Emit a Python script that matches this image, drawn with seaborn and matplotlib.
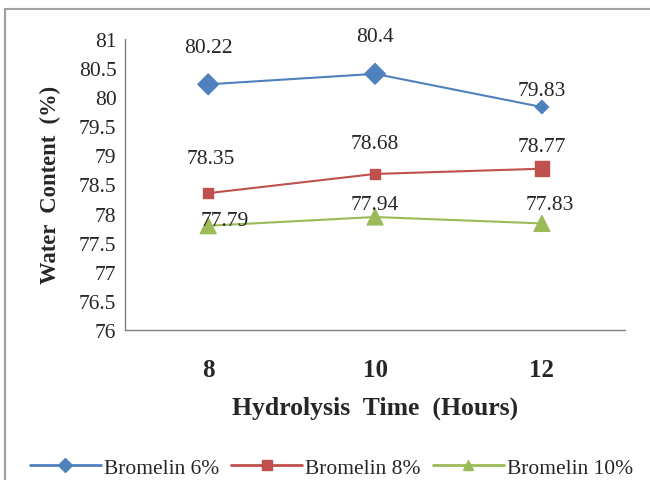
import numpy as np
import pandas as pd
import matplotlib
matplotlib.use("Agg")
import matplotlib.pyplot as plt
import seaborn as sns
from matplotlib.patches import Rectangle

# data
hours = ["8", "10", "12"]
bromelin_6 = [80.22, 80.4, 79.83]
bromelin_8 = [78.35, 78.68, 78.77]
bromelin_10 = [77.79, 77.94, 77.83]
series_names = ["Bromelin 6%", "Bromelin 8%", "Bromelin 10%"]

# styling
colors = ["#4F81BD", "#C0504D", "#9BBB59"]
markers = ["D", "s", "^"]
marker_sizes = [[110, 110, 45], [50, 50, 110], [130, 130, 130]]
label_offsets = [[(0, 20), (0, 20), (0, 5)],
                 [(2, 18), (0, 15), (0, 9)],
                 [(12, -3), (0, 2), (6, 7)]]

sns.set_style("white")
plt.rcParams["font.family"] = ["Liberation Serif", "DejaVu Serif"]

rows = []
for name, vals in zip(series_names, [bromelin_6, bromelin_8, bromelin_10]):
    for h, v in zip(hours, vals):
        rows.append({"Hours": h, "Water": v, "Series": name})
df = pd.DataFrame(rows)

fig = plt.figure(figsize=(6.5, 4.81), dpi=100)
ax = fig.add_axes([0.192, 0.312, 0.77, 0.605])

for i, name in enumerate(series_names):
    sub = df[df["Series"] == name]
    sns.lineplot(data=sub, x="Hours", y="Water", color=colors[i], lw=1.5,
                 ax=ax, legend=False, sort=False)
    ax.scatter(np.arange(len(hours)), sub["Water"], s=marker_sizes[i],
               marker=markers[i], color=colors[i], zorder=3)
    for j, v in enumerate(sub["Water"]):
        ax.annotate(f"{v:g}", (j, v), xytext=label_offsets[i][j],
                    textcoords="offset points", ha="center", va="bottom",
                    fontsize=15.5)

ax.set_xlim(-0.5, 2.5)
ax.set_ylim(76, 81)
ax.set_yticks(np.arange(76, 81.01, 0.5))
ax.set_yticklabels([f"{t:g}" for t in np.arange(76, 81.01, 0.5)], fontsize=15.5)
ax.set_xticks(range(len(hours)))
ax.set_xticklabels(hours, fontsize=18, fontweight="bold")
ax.tick_params(axis="y", length=0, pad=6)
ax.tick_params(axis="x", length=0, pad=20)
ax.set_xlabel("Hydrolysis  Time  (Hours)", fontsize=18.5, fontweight="bold", labelpad=11)
ax.set_ylabel("Water  Content  (%)", fontsize=16.3, fontweight="bold", labelpad=13)

for s in ["top", "right"]:
    ax.spines[s].set_visible(False)
for s in ["left", "bottom"]:
    ax.spines[s].set_color("#808080")
    ax.spines[s].set_linewidth(1.0)

# legend at the bottom
handles = [plt.Line2D([], [], color=colors[i], marker=markers[i], lw=2,
                      markersize=7) for i in range(3)]
fig.legend(handles, series_names, loc="lower center", ncol=3, frameon=False,
           fontsize=15.5, bbox_to_anchor=(0.51, -0.036), handlelength=3.3,
           handletextpad=0.15, columnspacing=0.55)

# outer frame
fig.patches.append(Rectangle((0.008, -0.01), 1.1, 0.99, transform=fig.transFigure,
                             fill=False, edgecolor="#A0A0A0", lw=1.5))

fig.savefig("out.png", dpi=100)
